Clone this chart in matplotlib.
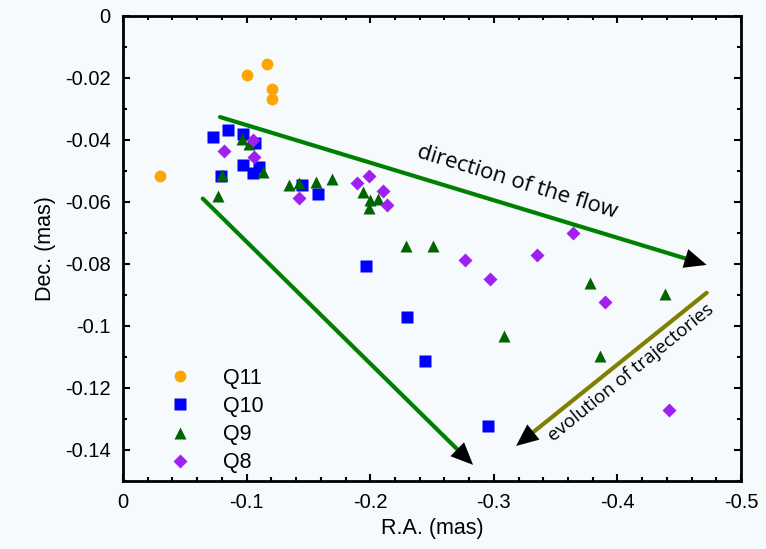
import numpy as np
import matplotlib
matplotlib.use('Agg')
import matplotlib.pyplot as plt
from matplotlib.ticker import MultipleLocator

plt.rcParams['font.family'] = ['Liberation Sans', 'DejaVu Sans']

# Q11 (circles)
q11_x = [-0.030, -0.100, -0.1165, -0.1205, -0.1205]
q11_y = [-0.0516, -0.0190, -0.0155, -0.0235, -0.0268]

# Q10 (squares)
q10_x = [-0.0731, -0.0852, -0.0973, -0.1070, -0.0795, -0.0973, -0.1054,
         -0.1098, -0.1451, -0.1580, -0.1966, -0.2300, -0.2446, -0.2955]
q10_y = [-0.0391, -0.0368, -0.0382, -0.0410, -0.0516, -0.0482, -0.0507,
         -0.0486, -0.0545, -0.0575, -0.0806, -0.0972, -0.1114, -0.1324]

# Q9 (triangles)
q9_x = [-0.0771, -0.0801, -0.0963, -0.1017, -0.1129, -0.1343, -0.1426,
        -0.1564, -0.1693, -0.1939, -0.1998, -0.2063, -0.1993, -0.2287,
        -0.2506, -0.3085, -0.3781, -0.3857, -0.4385]
q9_y = [-0.0581, -0.0513, -0.0396, -0.0414, -0.0503, -0.0544, -0.0538,
        -0.0535, -0.0527, -0.0568, -0.0594, -0.0591, -0.0618, -0.0743,
        -0.0743, -0.1033, -0.0862, -0.1098, -0.0898]

# Q8 (diamonds)
q8_x = [-0.1049, -0.0820, -0.1060, -0.1426, -0.1891, -0.1993, -0.2104,
        -0.2138, -0.2765, -0.2969, -0.3352, -0.3643, -0.3902, -0.4415]
q8_y = [-0.0400, -0.0435, -0.0454, -0.0588, -0.0540, -0.0517, -0.0564,
        -0.0610, -0.0787, -0.0849, -0.0771, -0.0701, -0.0922, -0.1271]

# arrows: (start, end)
flow_arrow = ((-0.0785, -0.0326), (-0.4722, -0.0803))
green_arrow = ((-0.0645, -0.0589), (-0.2832, -0.1448))
evol_arrow = ((-0.4722, -0.0893), (-0.3180, -0.1387))

bg = '#f6fafd'
fig = plt.figure(figsize=(7.66, 5.49), dpi=100, facecolor=bg)
ax = fig.add_axes([0.1606, 0.1239, 0.8068, 0.847], facecolor=bg)

ax.plot(q11_x, q11_y, 'o', color='#ffa500', ms=8.5, mec='none', label='Q11', zorder=3)
ax.plot(q10_x, q10_y, 's', color='#0000ff', ms=8.5, mec='none', label='Q10', zorder=3)
ax.plot(q9_x, q9_y, '^', color='#006400', ms=8.5, mec='none', label='Q9', zorder=3)
ax.plot(q8_x, q8_y, 'D', color='#a020f0', ms=7, mec='none', label='Q8', zorder=3)


def draw_arrow(start, end, col):
    # coloured shaft, black head on top
    ax.annotate('', xy=end, xytext=start,
                arrowprops=dict(arrowstyle='-', color=col, lw=3,
                                shrinkA=0, shrinkB=10), zorder=4)
    ax.annotate('', xy=end, xytext=start,
                arrowprops=dict(arrowstyle='-|>,head_length=0.8,head_width=0.35',
                                color='black', lw=0, shrinkA=0, shrinkB=0,
                                mutation_scale=20), zorder=5)


draw_arrow(*flow_arrow, '#008000')
draw_arrow(*green_arrow, '#008000')
draw_arrow(*evol_arrow, '#808000')

ax.text(-0.3190, -0.0535, 'direction of the flow', rotation=-17, family='Open Sans',
        fontsize=16, ha='center', va='center', rotation_mode='anchor')
ax.text(-0.4110, -0.1150, 'evolution of trajectories', rotation=39, family='Open Sans',
        fontsize=13.5, ha='center', va='center', rotation_mode='anchor')

ax.set_xlim(0, -0.5)
ax.set_ylim(-0.15, 0)
ax.xaxis.set_minor_locator(MultipleLocator(0.02))
ax.yaxis.set_minor_locator(MultipleLocator(0.01))
ax.set_xticks([0, -0.1, -0.2, -0.3, -0.4, -0.5])
ax.set_xticklabels(['0', '-0.1', '-0.2', '-0.3', '-0.4', '-0.5'])
ax.set_yticks([0, -0.02, -0.04, -0.06, -0.08, -0.1, -0.12, -0.14])
ax.set_yticklabels(['0', '-0.02', '-0.04', '-0.06', '-0.08', '-0.1', '-0.12', '-0.14'])
ax.tick_params(which='both', direction='in', top=True, right=True, labelsize=14.5, width=1.5)
ax.tick_params(which='major', length=5, pad=9)
ax.tick_params(which='minor', length=3)
for s in ax.spines.values():
    s.set_linewidth(2)

ax.set_xlabel('R.A. (mas)', fontsize=15.5, labelpad=4)
ax.set_ylabel('Dec. (mas)', fontsize=15.5, labelpad=6)

ax.legend(loc='lower left', bbox_to_anchor=(0.04, -0.025), frameon=False, fontsize=15.5,
          handletextpad=1.4, labelspacing=0.33, handlelength=1.2)

fig.savefig('out.png', dpi=100, facecolor=bg)
